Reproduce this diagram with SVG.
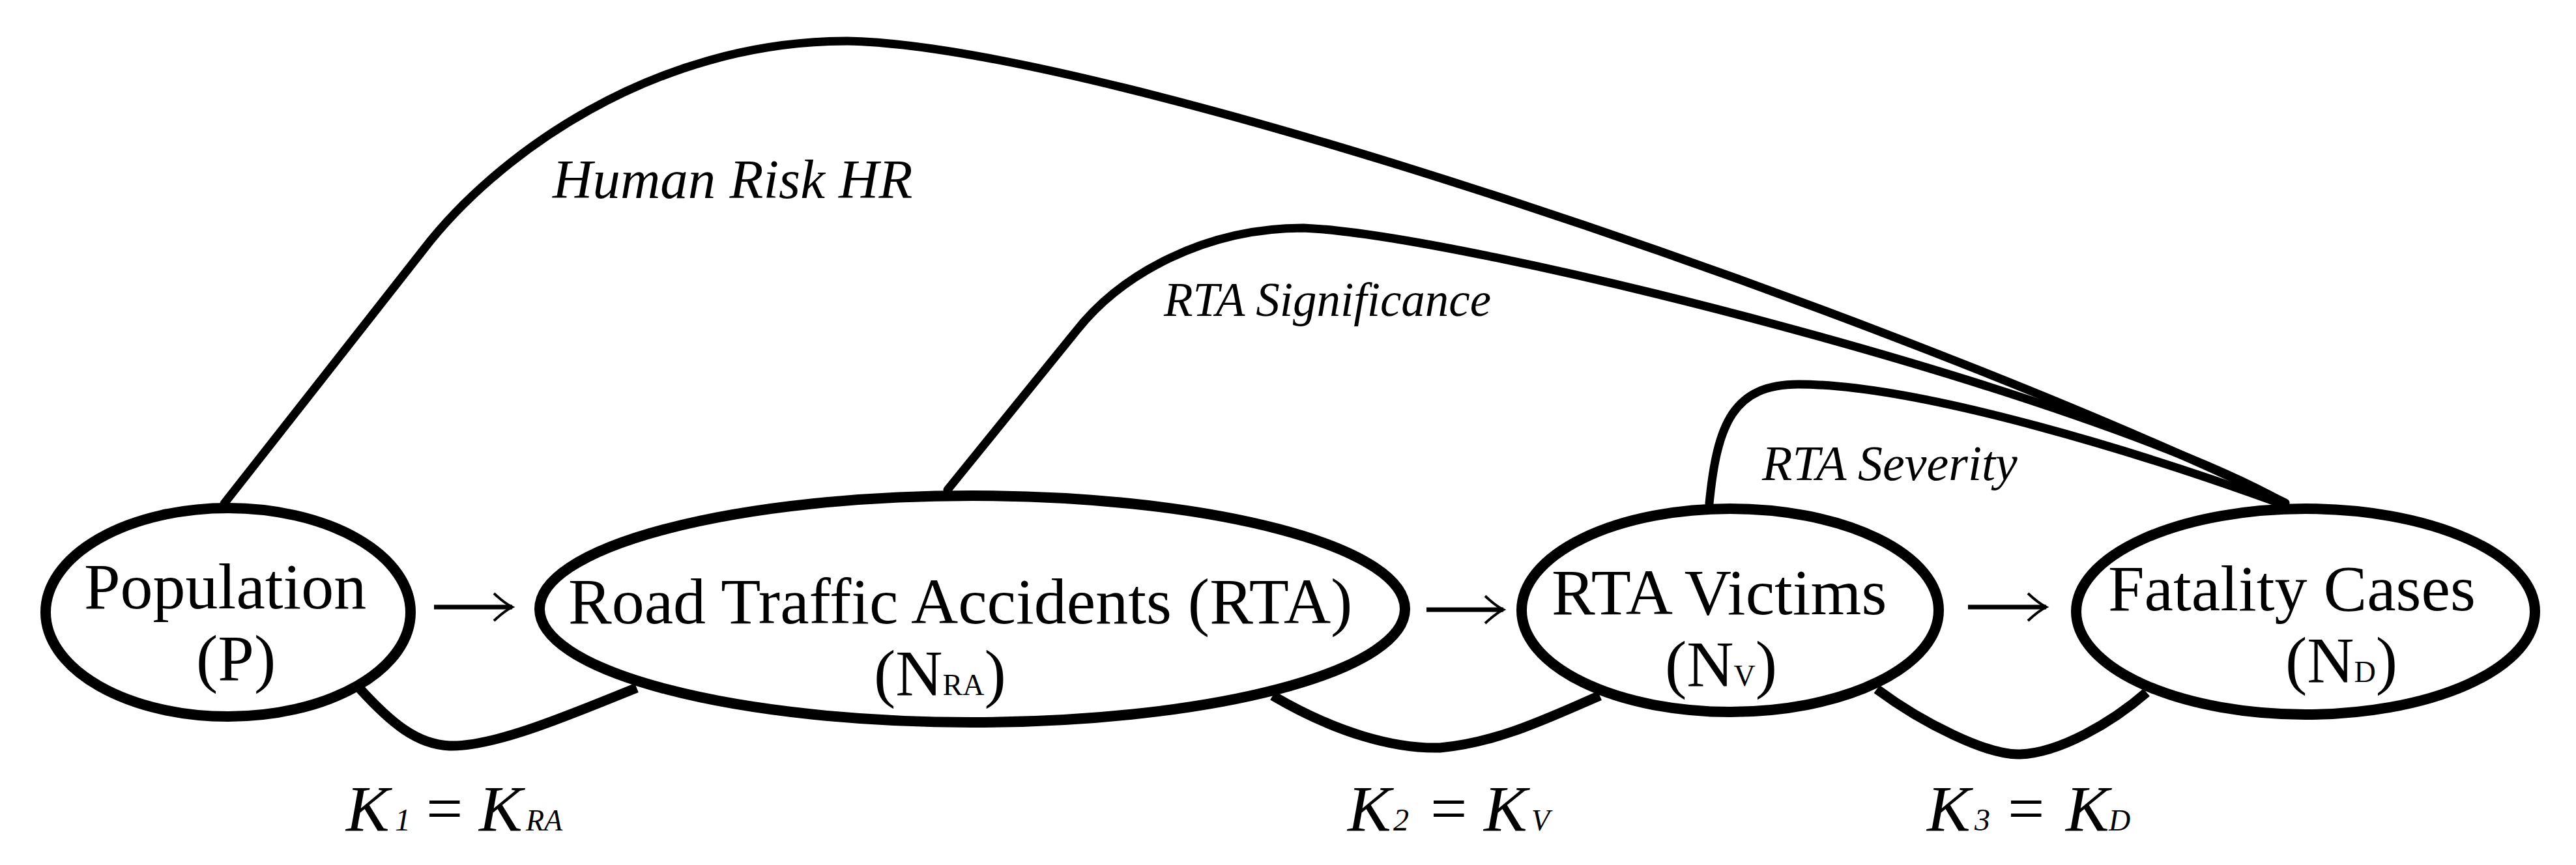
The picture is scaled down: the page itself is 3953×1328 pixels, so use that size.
<svg xmlns="http://www.w3.org/2000/svg" width="3953" height="1328" viewBox="0 0 3953 1328">
<defs>
<style>
.node{fill:none;stroke:#000;stroke-width:16}
.arc{fill:none;stroke:#000;stroke-width:13;stroke-linecap:round}
.kc{fill:none;stroke:#000;stroke-width:15;stroke-linejoin:round}
.arr{fill:none;stroke:#000;stroke-width:7}
.t{font-family:"Liberation Serif","Times New Roman",serif;font-size:100px;fill:#000}
.sub{font-size:46px}
.it{font-family:"Liberation Serif","Times New Roman",serif;font-style:italic;fill:#000}
</style>
<marker id="ah" markerUnits="userSpaceOnUse" markerWidth="40" markerHeight="50" viewBox="-34 -25 40 50" refX="0" refY="0" orient="auto">
<path d="M-28,-21 Q-12,-6 0,0 Q-12,6 -28,21" fill="none" stroke="#000" stroke-width="4"/>
</marker>
</defs>
<rect width="3953" height="1328" fill="#fff"/>
<g id="connectors">
<path class="arc" d="M344,773 L650,383 C760,240 1000,63 1300,63 C1700,70 2900,480 3507,772"/>
<path class="arc" d="M1454,752 L1650,510 C1720,420 1850,350 2000,350 C2250,360 3200,600 3505,772"/>
<path class="arc" d="M2623,773 C2635,650 2660,590 2760,590 C2950,590 3300,700 3505,775"/>
<path class="kc" d="M551,1056 C600,1110 640,1143 690,1145 C760,1147 880,1095 977,1056"/>
<path class="kc" d="M1953,1068 C2050,1125 2140,1150 2210,1148 C2300,1140 2380,1100 2455,1068"/>
<path class="kc" d="M2880,1058 C2950,1110 3050,1160 3100,1158 C3160,1156 3240,1110 3294,1063"/>
<line class="arr" x1="666" y1="932" x2="786" y2="932" marker-end="url(#ah)"/>
<line class="arr" x1="2189" y1="936" x2="2307" y2="936" marker-end="url(#ah)"/>
<line class="arr" x1="3020" y1="932" x2="3140" y2="932" marker-end="url(#ah)"/>
</g>
<g id="node-population">
<ellipse class="node" cx="350" cy="940" rx="280" ry="160"/>
<text class="t" x="129" y="934">Population</text>
<text class="t" x="301" y="1044">(P)</text>
</g>
<g id="node-rta">
<ellipse class="node" cx="1492" cy="935" rx="664" ry="174"/>
<text class="t" x="872" y="957">Road Traffic Accidents (RTA)</text>
<text class="t" x="1341" y="1067">(N<tspan class="sub">RA</tspan>)</text>
</g>
<g id="node-victims">
<ellipse class="node" cx="2655" cy="937" rx="320" ry="156"/>
<text class="t" x="2381" y="943">RTA Victims</text>
<text class="t" x="2555" y="1053">(N<tspan class="sub">V</tspan>)</text>
</g>
<g id="node-fatality">
<ellipse class="node" cx="3538" cy="939" rx="352" ry="158"/>
<text class="t" x="3235" y="937">Fatality Cases</text>
<text class="t" x="3507" y="1047">(N<tspan class="sub">D</tspan>)</text>
</g>
<g id="labels">
<text class="it" x="848" y="304" font-size="85">Human Risk HR</text>
<text class="it" x="1786" y="485" font-size="73">RTA Significance</text>
<text class="it" x="2704" y="737" font-size="76">RTA Severity</text>
<text class="it" y="1275" font-size="100"><tspan x="531">K</tspan><tspan x="606" font-size="48">1</tspan><tspan x="654" font-style="normal">=</tspan><tspan x="735">K</tspan><tspan x="807" font-size="46">RA</tspan></text>
<text class="it" y="1275" font-size="100"><tspan x="2068">K</tspan><tspan x="2138" font-size="48">2</tspan><tspan x="2195" font-style="normal">=</tspan><tspan x="2277">K</tspan><tspan x="2350" font-size="46">V</tspan></text>
<text class="it" y="1275" font-size="100"><tspan x="2957">K</tspan><tspan x="3030" font-size="48">3</tspan><tspan x="3081" font-style="normal">=</tspan><tspan x="3170">K</tspan><tspan x="3236" font-size="46">D</tspan></text>
</g>
</svg>
